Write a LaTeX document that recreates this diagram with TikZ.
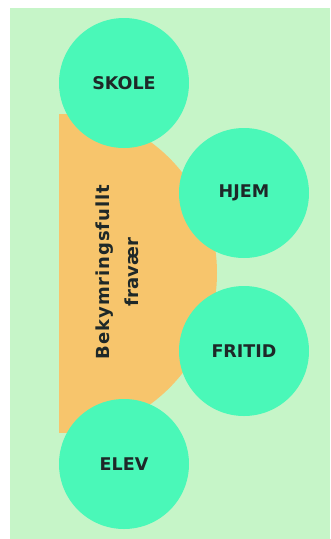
\documentclass[tikz,border=0pt]{standalone}
\usepackage{fontspec}
\usepackage{xcolor}
\usepackage{tikz}
\setmainfont{DejaVu Sans}
\definecolor{meadowlight}{HTML}{C6F5C8}
\definecolor{mintcircle}{HTML}{4AF8B8}
\definecolor{absenceorange}{HTML}{F7C56C}
\definecolor{inkdark}{HTML}{1E2828}
\tikzset{
  arena/.style={circle, fill=mintcircle, minimum size=130pt, inner sep=0pt,
    text=inkdark, font=\fontsize{17.5}{17.5}\selectfont\bfseries}
}

\begin{document}
\begin{tikzpicture}[x=1pt, y=-1pt]
  \useasboundingbox (0,0) rectangle (330,539);
  % Page and background panel
  \fill[white] (0,0) rectangle (330,539);
  \fill[meadowlight] (10,8) rectangle (330,539);

  % Orange half-disc behind the circles
  \begin{scope}
    \clip (59,114) rectangle (230,432);
    \fill[absenceorange] (54.5,273) circle (162.5);
  \end{scope}

  % Rotated label
  \node[inkdark, rotate=90, align=center, inner sep=0pt,
    font=\fontsize{18}{29}\selectfont\bfseries] (fravaer) at (117,272)
    {{\addfontfeatures{LetterSpace=5}Bekymringsfullt}\\frav\ae r};

  % The four arenas
  \node[arena] (skole) at (124,83) {SKOLE};
  \node[arena] (hjem) at (244,193) {HJEM};
  \node[arena] (fritid) at (244,351) {FRITID};
  \node[arena] (elev) at (124,464) {ELEV};
\end{tikzpicture}
\end{document}
